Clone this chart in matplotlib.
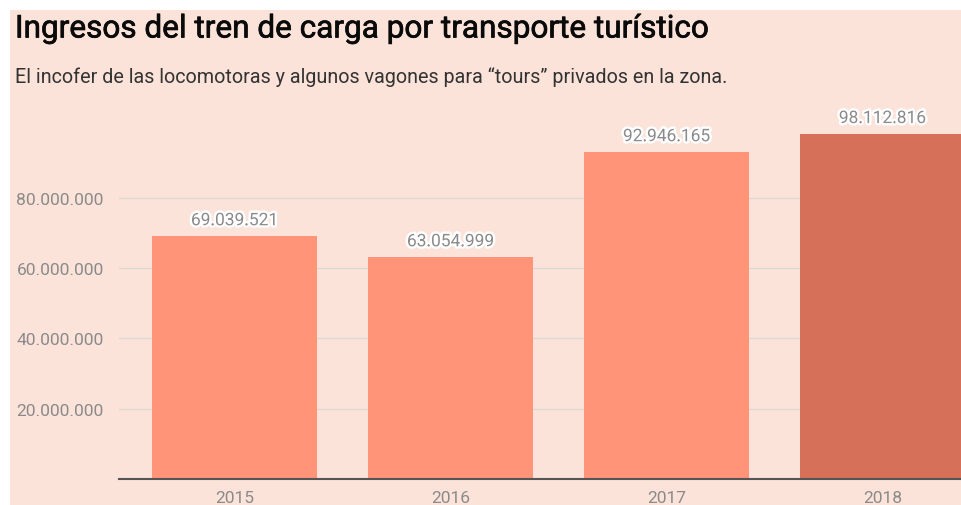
import matplotlib
matplotlib.use('Agg')
from matplotlib import pyplot as plt
from matplotlib.patches import Rectangle
import matplotlib.patheffects as pe

plt.rcParams['font.family'] = ['Roboto', 'DejaVu Sans']

# datos
anios = ['2015', '2016', '2017', '2018']
ingresos = [69039521, 63054999, 92946165, 98112816]
colores = ['#ff9479', '#ff9479', '#ff9479', '#d67058']
ticks_y = [20000000, 40000000, 60000000, 80000000]

W, H = 961, 506
fig = plt.figure(figsize=(W / 100, H / 100), dpi=100, facecolor='white')
# fondo rosado con borde blanco arriba e izquierda
fig.patches.append(Rectangle((10 / W, 0), 1, 1 - 11 / H, transform=fig.transFigure,
                             facecolor='#fce3d9', edgecolor='none', zorder=-1))

ax = fig.add_axes([119 / W, 26 / H, (W - 119) / W, 351.5 / H])
ax.set_facecolor('none')

x = list(range(len(anios)))
ax.bar(x, ingresos, width=0.764, color=colores, zorder=2)
ax.set_xlim(-0.535, 3.363)
ax.set_ylim(0, 100000000)

def fmt(v):
    return f'{v:,}'.replace(',', '.')

for xi, v in zip(x, ingresos):
    ax.text(xi, v + 2300000, fmt(v), ha='center', va='bottom', fontsize=12.5, color='#8a8a8a',
            clip_on=False, zorder=4,
            path_effects=[pe.withStroke(linewidth=3.5, foreground='white')])

ax.set_yticks(ticks_y)
ax.set_yticklabels([fmt(t) for t in ticks_y])
ax.set_xticks(x)
ax.set_xticklabels(anios)
ax.tick_params(axis='both', length=0, labelsize=12.5, labelcolor='#8a8a8a')
ax.tick_params(axis='y', pad=11)
ax.tick_params(axis='x', pad=8)
ax.grid(axis='y', color='#d9d9d6', linewidth=1, zorder=0)
ax.set_axisbelow(True)
for s in ['top', 'right', 'left']:
    ax.spines[s].set_visible(False)
ax.spines['bottom'].set_color('#555555')
ax.spines['bottom'].set_linewidth(1.5)
ax.spines['bottom'].set_zorder(3)

fig.text(15 / W, 1 - 30 / H, 'Ingresos del tren de carga por transporte turístico',
         fontsize=22.7, fontweight='normal', color='#0a0a0a', va='center', ha='left',
         path_effects=[pe.withStroke(linewidth=0.5, foreground='#0a0a0a')])
fig.text(15 / W, 1 - 77 / H, 'El incofer de las locomotoras y algunos vagones para “tours” privados en la zona.',
         fontsize=14.25, color='#333333', va='center', ha='left')

fig.savefig('out.png', dpi=100, facecolor='white')
